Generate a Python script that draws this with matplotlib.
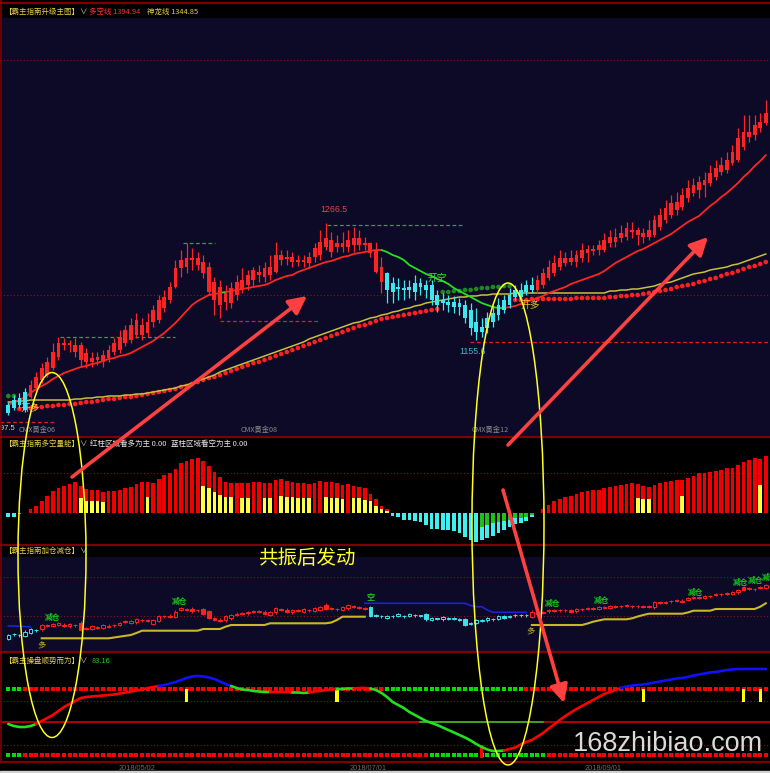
import numpy as np
import matplotlib
matplotlib.use("Agg")
import matplotlib.pyplot as plt
from matplotlib.patches import Ellipse, Rectangle

plt.rcParams['font.family'] = ['Noto Sans CJK SC', 'DejaVu Sans']
CJK = ['Noto Sans CJK SC', 'DejaVu Sans']
NUM = ['Liberation Sans Narrow', 'Liberation Sans', 'DejaVu Sans']

W, H = 770, 773
NAVY = '#0c0a26'
RED = '#ff2424'
CYAN = '#3ee6ee'
GREEN = '#22e022'
YEL_LINE = '#c8c03a'
GOLD = '#e6d04a'
BORDER = '#7e0000'
DOT = '#8a1414'

# ---------------- main chart (price) ----------------
m_open = [1095, 1100, 1102, 1090, 1103, 1112, 1120, 1125, 1132, 1143,
          1155, 1157, 1155, 1155, 1147, 1138, 1140, 1138, 1142, 1148,
          1150, 1157, 1160, 1165, 1175, 1167, 1178, 1180, 1192, 1200,
          1213, 1232, 1233, 1240, 1242, 1238, 1233, 1218, 1195, 1207,
          1197, 1205, 1210, 1215, 1220, 1228, 1223, 1225, 1228, 1245,
          1241, 1243, 1238, 1240, 1237, 1243, 1245, 1253, 1260, 1253,
          1257, 1253, 1255, 1262, 1255, 1257, 1250, 1233, 1227, 1208,
          1213, 1210, 1213, 1208, 1213, 1215, 1215, 1205, 1197, 1198,
          1193, 1197, 1195, 1190, 1178, 1168, 1172, 1178, 1185, 1190,
          1195, 1203, 1210, 1208, 1210, 1210, 1215, 1222, 1227, 1233,
          1237, 1242, 1238, 1242, 1247, 1249, 1250, 1250, 1257, 1258,
          1262, 1263, 1268, 1270, 1267, 1263, 1265, 1273, 1280, 1285,
          1290, 1293, 1302, 1307, 1310, 1315, 1317, 1323, 1328, 1330,
          1337, 1340, 1353, 1368, 1365, 1372, 1377]
m_close = [1087, 1092, 1095, 1108, 1115, 1123, 1132, 1138, 1148, 1157,
           1157, 1155, 1148, 1140, 1138, 1142, 1143, 1145, 1150, 1157,
           1163, 1170, 1175, 1180, 1165, 1178, 1190, 1200, 1203, 1213,
           1232, 1240, 1242, 1242, 1235, 1227, 1208, 1200, 1213, 1198,
           1212, 1218, 1220, 1225, 1230, 1225, 1232, 1233, 1245, 1240,
           1243, 1238, 1240, 1238, 1243, 1252, 1258, 1262, 1248, 1257,
           1253, 1260, 1262, 1255, 1257, 1247, 1228, 1218, 1210, 1217,
           1211, 1212, 1210, 1217, 1217, 1210, 1200, 1195, 1200, 1195,
           1198, 1193, 1182, 1172, 1168, 1173, 1182, 1187, 1195, 1200,
           1205, 1210, 1203, 1215, 1215, 1220, 1227, 1233, 1237, 1242,
           1242, 1238, 1245, 1250, 1251, 1251, 1255, 1260, 1263, 1263,
           1267, 1272, 1270, 1265, 1263, 1270, 1280, 1285, 1292, 1297,
           1298, 1305, 1312, 1315, 1318, 1320, 1327, 1332, 1335, 1340,
           1348, 1362, 1368, 1363, 1375, 1378, 1387]
m_high = [1098, 1105, 1107, 1112, 1120, 1128, 1137, 1143, 1157, 1163,
          1162, 1160, 1162, 1158, 1152, 1148, 1148, 1150, 1155, 1162,
          1170, 1175, 1182, 1187, 1182, 1187, 1195, 1205, 1210, 1218,
          1240, 1250, 1257, 1252, 1248, 1245, 1238, 1223, 1220, 1215,
          1218, 1225, 1232, 1230, 1233, 1235, 1238, 1245, 1258, 1250,
          1250, 1248, 1245, 1245, 1248, 1257, 1270, 1277, 1268, 1265,
          1268, 1270, 1273, 1270, 1263, 1258, 1258, 1243, 1228, 1223,
          1222, 1220, 1220, 1225, 1222, 1220, 1220, 1210, 1207, 1205,
          1204, 1202, 1200, 1197, 1192, 1182, 1188, 1195, 1202, 1205,
          1212, 1215, 1217, 1220, 1223, 1225, 1232, 1240, 1245, 1250,
          1248, 1250, 1250, 1257, 1255, 1255, 1260, 1267, 1270, 1272,
          1275, 1278, 1278, 1273, 1272, 1280, 1285, 1292, 1300, 1305,
          1308, 1312, 1320, 1322, 1324, 1328, 1335, 1340, 1343, 1348,
          1355, 1372, 1385, 1385, 1385, 1387, 1400]
m_low = [1085, 1090, 1092, 1088, 1102, 1110, 1117, 1123, 1130, 1140,
         1150, 1148, 1143, 1133, 1132, 1133, 1135, 1133, 1138, 1145,
         1147, 1154, 1157, 1162, 1160, 1163, 1173, 1177, 1188, 1197,
         1212, 1223, 1227, 1230, 1230, 1222, 1205, 1185, 1182, 1190,
         1192, 1200, 1207, 1210, 1213, 1218, 1218, 1220, 1227, 1235,
         1235, 1233, 1234, 1233, 1232, 1238, 1240, 1250, 1243, 1248,
         1248, 1248, 1248, 1250, 1250, 1243, 1227, 1207, 1197, 1197,
         1200, 1200, 1202, 1200, 1205, 1202, 1195, 1188, 1190, 1188,
         1187, 1185, 1177, 1165, 1160, 1163, 1167, 1173, 1180, 1187,
         1192, 1200, 1200, 1205, 1207, 1207, 1212, 1220, 1224, 1230,
         1234, 1235, 1233, 1238, 1238, 1245, 1245, 1248, 1253, 1253,
         1258, 1260, 1262, 1255, 1257, 1260, 1263, 1270, 1277, 1282,
         1285, 1290, 1298, 1304, 1302, 1303, 1314, 1320, 1325, 1327,
         1335, 1338, 1350, 1358, 1360, 1368, 1375]
# trend regime of the candles: (first bar, last bar, state)
m_regime = [(0, 3, 'short'), (4, 67, 'long'), (68, 94, 'short'), (95, 136, 'long')]

# 多空线 (red/green), 神龙线 (yellow), dotted support line
dk_line = [1095, 1098, 1100, 1103, 1107, 1111, 1114, 1117, 1121, 1124,
           1127, 1129, 1131, 1133, 1134, 1136, 1137, 1139, 1141, 1142,
           1144, 1145, 1147, 1150, 1153, 1156, 1159, 1163, 1167, 1172,
           1177, 1183, 1189, 1195, 1199, 1202, 1205, 1206, 1207, 1208,
           1209, 1210, 1211, 1212, 1213, 1214, 1215, 1217, 1220, 1222,
           1224, 1225, 1228, 1230, 1232, 1234, 1236, 1238, 1239, 1241,
           1243, 1244, 1246, 1247, 1248, 1249, 1250, 1250, 1248, 1245,
           1243, 1240, 1235, 1232, 1229, 1226, 1224, 1221, 1219, 1216,
           1212, 1209, 1206, 1203, 1200, 1197, 1195, 1193, 1192, 1192,
           1193, 1194, 1196, 1198, 1200, 1202, 1204, 1207, 1209, 1211,
           1213, 1216, 1218, 1220, 1222, 1224, 1226, 1229, 1233, 1237,
           1240, 1243, 1246, 1249, 1251, 1254, 1257, 1260, 1263, 1266,
           1270, 1274, 1278, 1281, 1284, 1289, 1294, 1298, 1303, 1307,
           1312, 1317, 1323, 1328, 1334, 1339, 1345]
dk_regime = [(0, 37, 'long'), (38, 38, 'short'), (39, 66, 'long'),
             (67, 88, 'short'), (89, 136, 'long')]
sl_line = [1098, 1098, 1099, 1099, 1100, 1100, 1100, 1100, 1100, 1100,
           1100, 1100, 1101, 1101, 1102, 1102, 1103, 1103, 1104, 1104,
           1104, 1105, 1105, 1106, 1106, 1107, 1108, 1109, 1110, 1111,
           1112, 1114, 1115, 1117, 1119, 1121, 1123, 1125, 1128, 1130,
           1132, 1134, 1136, 1138, 1140, 1142, 1144, 1146, 1148, 1150,
           1152, 1154, 1156, 1158, 1161, 1163, 1165, 1167, 1169, 1171,
           1173, 1175, 1177, 1178, 1180, 1182, 1183, 1185, 1186, 1188,
           1189, 1191, 1192, 1194, 1195, 1197, 1198, 1199, 1200, 1201,
           1202, 1203, 1203, 1204, 1204, 1205, 1205, 1206, 1206, 1206,
           1206, 1207, 1207, 1207, 1207, 1207, 1207, 1207, 1207, 1207,
           1207, 1207, 1207, 1207, 1207, 1207, 1207, 1207, 1209, 1209,
           1210, 1210, 1211, 1211, 1212, 1213, 1214, 1216, 1217, 1218,
           1220, 1222, 1224, 1226, 1227, 1228, 1230, 1231, 1232, 1233,
           1235, 1236, 1238, 1240, 1242, 1244, 1246]
dot_line = [1104, 1104, 1091, 1092, 1092, 1093, 1093, 1094, 1094, 1095,
            1095, 1096, 1096, 1097, 1098, 1098, 1099, 1100, 1101, 1101,
            1102, 1103, 1103, 1104, 1105, 1106, 1107, 1108, 1109, 1110,
            1111, 1113, 1114, 1116, 1118, 1120, 1122, 1123, 1125, 1127,
            1129, 1131, 1133, 1135, 1137, 1138, 1140, 1142, 1144, 1146,
            1148, 1150, 1152, 1154, 1156, 1158, 1160, 1162, 1164, 1166,
            1168, 1170, 1172, 1174, 1175, 1177, 1179, 1181, 1182, 1183,
            1184, 1185, 1186, 1187, 1188, 1189, 1190, 1191, 1208, 1208,
            1209, 1209, 1210, 1210, 1211, 1212, 1212, 1213, 1213, 1214,
            1214, 1200, 1200, 1200, 1201, 1201, 1201, 1201, 1201, 1201,
            1201, 1201, 1202, 1202, 1202, 1202, 1202, 1202, 1203, 1203,
            1204, 1204, 1205, 1205, 1206, 1207, 1208, 1209, 1210, 1211,
            1213, 1214, 1215, 1216, 1218, 1219, 1221, 1222, 1224, 1226,
            1227, 1229, 1231, 1233, 1234, 1236, 1238]
dot_regime = [(0, 1, 'short'), (2, 77, 'long'), (78, 90, 'short'), (91, 136, 'long')]
# support / resistance levels: (from bar, to bar, price, kind)
levels = [(-1.5, 8.4, 1078, 'support'), (9.3, 29.9, 1163, 'resist'),
          (31.4, 37.1, 1257, 'resist'), (38.0, 55.6, 1179, 'support'),
          (57.2, 81.4, 1275, 'resist'), (82.9, 136.8, 1158, 'support')]

# ---------------- 多空量能 histogram ----------------
vol_force = [-4.5, -4.5, -1.5, -0.5, 3.3, 7, 12, 16.7, 21.7, 25, 27, 28.7, 30.3,
             27, 24, 22.3, 22.3, 20.7, 21.7, 21.7, 22.3, 25, 26, 28.7, 31,
             30.3, 30, 33.3, 37.7, 40, 43.7, 49.3, 51.7, 53.3, 54.3,
             51.7, 47, 41, 35.3, 31, 30, 30, 29.3, 29.3, 31, 31, 29.3, 29.3,
             32.7, 33.3, 32, 31, 29.3, 29.3, 28.7, 29.3, 32, 31, 30.3, 30,
             27.7, 28.7, 26.7, 26, 25, 18.7, 13.3, 6.7, 3.3,
             -3, -4.7, -7.3, -7.3, -8, -9, -12.3, -16, -16.7, -17.3, -17.3, -18.3, -20, -24, -27.3, -29,
             -27.3, -25.7, -23.3, -20.7, -17.3, -14, -11.7, -10, -8.3, -4, -0.7,
             3.3, 7.7, 11.7, 13.7, 15.3, 16.7, 18.3, 21, 21.7, 22.7, 22.7, 25, 26, 26.7, 27.7, 28.7, 29.3,
             28.3, 26.7, 26, 27.7, 29.3, 30.3, 31.7, 32.7, 32.7, 34.3, 36.7, 39.3, 39.3, 41, 42, 42.7,
             44.3, 44.3, 47.7, 51, 52.7, 54.3, 53.7, 57]
yel_idx = [13, 14, 15, 16, 17, 25, 35, 36, 37, 38, 39, 40, 42, 43, 46, 47, 49, 50, 51,
           52, 53, 54, 57, 58, 59, 60, 62, 63, 64, 65, 66, 67, 68, 113, 114, 115, 121, 135]
yel_val = [14.3, 12, 11.7, 11.7, 11, 16, 26.7, 24.3, 21, 17.3, 16, 15.3, 15, 15, 15, 15, 16.7, 16, 15.3,
           15, 14.3, 14.3, 16, 15, 14.3, 13.7, 14.3, 14.3, 12.7, 11.7, 6.7, 3.7, 1.7, 15, 13.7, 13.3, 16.7, 27.7]
grn_idx = [2, 3, 85, 86, 87, 88, 89, 90, 91, 92, 93, 94, 95]
grn_val = [-1.5, -0.5, -14, -12.3, -10, -9, -8, -7.3, -5.7, -5.7, -4.7, -2.3, -0.7]

# ---------------- 加仓减仓 small candles ----------------
p3_open = [13.5, 18.3, 17.3, 16.5, 19.5, 22.3, 22.7, 26.6, 26, 27.3,
           27.5, 25.7, 27.3, 29.5, 23.3, 23.5, 24, 24, 25.5, 26.7,
           27.3, 29.8, 29.5, 29.7, 31.7, 31, 28.3, 31, 36.3, 35.5,
           35.5, 42, 43.3, 43.5, 42.3, 42.7, 41, 33.7, 32.5, 31.7,
           33.7, 37.5, 38.3, 38.7, 40, 40, 40.5, 37.3, 39.7, 43,
           42.5, 39.7, 41, 40, 41.7, 41, 42, 47.5, 44, 43.3,
           42.3, 43.7, 45.7, 45.3, 44, 45, 36.7, 36.3, 34.5, 36.3,
           36, 36.3, 36, 37.3, 36.2, 38, 32, 33.2, 32.7, 34,
           33.5, 33, 32.7, 29, 29, 31, 31.7, 33.3, 33, 36.3,
           35, 36.7, 37.3, 36.7, 35.5, 38.3, 39.3, 40.7, 41.7, 41.7,
           42.3, 42.3, 40.7, 42.7, 43.3, 44, 43, 44, 44.3, 45.7,
           45.7, 46.3, 46.3, 45.7, 45.7, 45, 44.7, 49.3, 49.3, 50.7,
           51, 51.5, 52.3, 54, 54.3, 54.3, 56.3, 57, 58.3, 58.3,
           58.3, 59.7, 65, 63.3, 63.3, 64.3, 64]
p3_close = [17, 17.7, 16.7, 20.5, 23, 21.7, 27, 26, 28, 28.7,
            26.5, 28.3, 26.7, 22.5, 24, 26, 25.3, 26.7, 26.5, 27.3,
            28.7, 30.8, 31, 33, 32.3, 31.7, 32.3, 36.3, 35.7, 36.5,
            40.5, 44, 42, 40.7, 41.7, 38, 34.5, 32.3, 31.5, 35.7,
            37, 38.5, 39, 40, 40.7, 40.7, 38, 40, 44.3, 42.3,
            40, 42.3, 41.7, 42.7, 42.3, 44.3, 45.3, 43, 43.3, 42.7,
            45, 47, 45, 44, 43.3, 36.5, 36, 35.7, 36.3, 35.7,
            38, 35.7, 38, 36.7, 35.8, 32.7, 34, 32.8, 34.7, 33.3,
            34, 32.3, 27.3, 28.3, 31.7, 31.7, 34.3, 32.7, 35.7, 34.3,
            35.7, 37.3, 36.7, 37.3, 40.5, 39, 40, 42, 41, 42.3,
            41.7, 40.3, 43.3, 43.3, 44, 43.3, 44.7, 44.7, 46.3, 45,
            46.3, 47, 45.7, 46.3, 45, 45.7, 49.7, 50, 50, 51.3,
            51.7, 50.5, 53.7, 54.7, 55, 56.3, 55.7, 58.3, 57.7, 59,
            60.3, 62.3, 62.3, 64, 62.7, 65, 66.7]
p3_regime = [(0, 5, 'short'), (6, 64, 'long'), (65, 93, 'short'), (94, 136, 'long')]
p3_cost = ([None] * 6 + [13.7] * 13 + [14.5, 15.3, 16, 17, 19] + [21.3] * 11 + [23] * 4 +
           [25.3] + [27] * 7 + [28.7] * 11 + [29.5, 32] + [35.3] * 5 + [None] * 29 +
           [27] * 10 + [28.5, 30.3, 31.5] + [32.7] * 5 + [33.7, 35.5, 37] + [38.3] * 7 +
           [39.5] + [41.3] * 4 + [43] * 8 + [45.3, 48.7])
p3_stop = ([26, 26, 25.8, 25.5, 25] + [None] * 59 + [48.7] * 19 + [46.5, 45.3, 45.3, 42] +
           [39.7] * 7 + [None] * 43)

# ---------------- 顺势而为 line ----------------
p4_line = [38, 36, 35, 35, 36, 38, 41, 44, 47, 51,
           55, 58, 61, 64, 65, 65.5, 66, 66.5, 67, 67.5,
           68.5, 69.5, 70.5, 71.5, 72.5, 74, 75, 76, 77, 78.5,
           80, 82, 84, 85.5, 86, 85.5, 84.5, 83, 80.5, 78,
           76, 74, 72.5, 72, 71, 70.5, 70, 70, 70, 70,
           70, 69.5, 69.5, 69, 69.5, 70.5, 71, 72, 72.5, 73,
           73, 73.5, 73.5, 74, 74, 73.5, 72, 69, 65, 60,
           57, 54, 50, 47, 44, 41, 39, 37, 34.5, 32,
           29.5, 27, 24.5, 21.5, 18, 15, 12.5, 11, 11, 11.5,
           13, 14.5, 17.5, 20, 22, 25.5, 29, 33.5, 37.5, 42,
           46, 49.5, 53, 56, 59, 62, 65, 68, 70, 72,
           74, 75.5, 76.5, 77, 77.5, 78.5, 79.5, 80.5, 81.5, 82.5,
           83.5, 84, 85, 86.5, 87.5, 88.5, 89.5, 90, 91, 92,
           92.5, 93, 93, 93, 93, 93, 93]
p4_regime = [(0, 4, 'short'), (5, 26, 'long'), (27, 39, 'strong'), (40, 46, 'short'),
             (47, 50, 'long'), (51, 53, 'short'), (54, 58, 'long'), (59, 61, 'short'),
             (62, 64, 'long'), (65, 88, 'short'), (89, 109, 'long'), (110, 136, 'strong')]
p4_top_row = [(0, 2, 'short'), (3, 67, 'long'), (68, 92, 'short'), (93, 136, 'long')]
p4_bot_row = [(0, 2, 'short'), (3, 75, 'long'), (76, 96, 'short'), (97, 136, 'long')]
p4_signal_idx = [32, 59, 114, 132, 135]
p4_low_idx = [85]
p4_zero_green = (74, 96)

dates = ['2018/05/02', '2018/07/01', '2018/09/01']
date_px = [137, 368, 603]

# ---------------- layout ----------------
X0, DX = 8.3, 5.57            # pixel of bar 0, pixels per bar
XL = (-X0 / DX, (W - X0) / DX)

fig = plt.figure(figsize=(W / 100, H / 100), dpi=100, facecolor='black')


def panel(top, bottom, ylim):
    ax = fig.add_axes([0, 1 - bottom / H, 1, (bottom - top) / H])
    ax.set_facecolor('black')
    ax.set_xlim(*XL)
    ax.set_ylim(*ylim)
    ax.set_xticks([]); ax.set_yticks([])
    for s in ax.spines.values():
        s.set_visible(False)
    return ax


def colors_for(regime, n, cmap):
    out = [None] * n
    for a, b, st in regime:
        for i in range(a, b + 1):
            out[i] = cmap[st]
    return out


def seg_line(ax, y, regime, cmap, lw, z=3):
    y = np.array(y, dtype=float)
    for a, b, st in regime:
        xs = np.arange(a, min(b + 2, len(y)))
        ax.plot(xs, y[xs], color=cmap[st], lw=lw, zorder=z, solid_capstyle='round')


# ---- main ----
ax1 = panel(0, 437, (1063, 1500))
ax1.axhspan(1063, 1482, color=NAVY, zorder=0)
for lv in (1440, 1205):
    ax1.axhline(lv, color=DOT, lw=0.8, ls=(0, (1, 2)), zorder=1)
for a, b, p, kind in levels:
    ax1.plot([a, b], [p, p], color='#22b022' if kind == 'resist' else '#e02020',
             lw=0.9, ls=(0, (3, 2)), zorder=1)

n = len(m_open)
xi = np.arange(n)
ccol = colors_for(m_regime, n, {'long': RED, 'short': CYAN})
o, c = np.array(m_open, float), np.array(m_close, float)
ax1.vlines(xi, m_low, m_high, colors=ccol, lw=0.9, zorder=4)
ax1.bar(xi, np.maximum(np.abs(c - o), 1.2), bottom=np.minimum(o, c), width=0.68,
        color=ccol, zorder=5)

dcol = colors_for(dot_regime, len(dot_line), {'long': '#ff2020', 'short': '#1e8a1e'})
ax1.scatter(np.arange(len(dot_line)), dot_line, s=11, c=dcol, edgecolors='none', zorder=2)
ax1.plot(np.arange(len(sl_line)), sl_line, color=YEL_LINE, lw=1.1, zorder=3)
seg_line(ax1, dk_line, dk_regime, {'long': RED, 'short': GREEN}, 1.3)

ax1.text(58.5, 1290, '1266.5', color='#e04848', fontsize=6.3, ha='center', va='center', family=NUM)
ax1.text(83.3, 1148, '1155.6', color='#3cb4cc', fontsize=6.3, ha='center', va='center', family=NUM)
ax1.text(77, 1222, '开空', color='#30e030', fontsize=7, ha='center', va='center')
ax1.text(3.9, 1092, '开多', color='#f0c030', fontsize=7, ha='center', va='center')
ax1.text(93.7, 1195, '开多', color='#f0c030', fontsize=7, ha='center', va='center')
ax1.text(1.3, 1071, '1197.5', color='#e0dca0', fontsize=5.5, ha='right', va='center', family=NUM)
ax1.text(1.9, 1070, 'CMX黄金06', color='#8a8a8a', fontsize=5.2, ha='left', va='center')
for xb, lab in [(45, 'CMX黄金08'), (86.5, 'CMX黄金12')]:
    ax1.text(xb, 1070, lab, color='#8a8a8a', fontsize=5.2, ha='center', va='center')

# ---- 多空量能 ----
ax2 = panel(437, 545, (-32.3, 75.7))
vf = np.array(vol_force)
ax2.axhline(39.7, color=DOT, lw=0.8, ls=(0, (1, 2)), zorder=1)
ax2.bar(np.arange(len(vf)), vf, width=0.66, color=np.where(vf >= 0, '#f00000', '#3ef0f0'), zorder=2)
ax2.bar(yel_idx, yel_val, width=0.66, color='#ffff44', zorder=3)
ax2.bar(grn_idx, grn_val, width=0.66, color='#1fbf1f', zorder=3)

# ---- 加仓减仓 ----
ax3 = panel(545, 652, (0, 107))
ax3.axhspan(0, 95, color=NAVY, zorder=0)
for lv in (75, 36):
    ax3.axhline(lv, color=DOT, lw=0.8, ls=(0, (1, 2)), zorder=1)
ax3.plot(np.arange(len(p3_cost)), np.array(p3_cost, dtype=float), color='#c8b828', lw=1.5, zorder=2)
ax3.plot(np.arange(len(p3_stop)), np.array(p3_stop, dtype=float), color='#2020d8', lw=1.2, zorder=2)
o3, c3 = np.array(p3_open, float), np.array(p3_close, float)
col3 = colors_for(p3_regime, len(o3), {'long': '#ff2020', 'short': '#3ee0ea'})
x3 = np.arange(len(o3))
ax3.vlines(x3, np.minimum(o3, c3) - 1.2, np.maximum(o3, c3) + 1.2, colors=col3, lw=0.7, zorder=3)
face3 = [NAVY if c3[i] > o3[i] else col3[i] for i in range(len(o3))]
ax3.bar(x3, np.maximum(np.abs(c3 - o3), 0.8), bottom=np.minimum(o3, c3), width=0.64,
        color=face3, edgecolor=col3, lw=0.7, zorder=4)
for xb, yb in [(7.9, 35), (30.7, 51), (97.8, 49), (106.6, 52), (123.4, 60),
               (131.4, 70), (134.2, 72), (136.6, 75)]:
    ax3.text(xb, yb, '减仓', color='#18c818', fontsize=5.6, weight='bold', ha='center', va='center')
ax3.text(65.1, 54, '空', color='#18c818', fontsize=5.8, weight='bold', ha='center', va='center')
ax3.text(5.9, 6, '多', color='#c8b830', fontsize=6, ha='center', va='center')
ax3.text(93.7, 20, '多', color='#c8b830', fontsize=6, ha='center', va='center')

# ---- 顺势而为 ----
ax4 = panel(652, 762, (0, 110))
for lv in (61, 17):
    ax4.axhline(lv, color=DOT, lw=0.8, ls=(0, (1, 2)), zorder=1)
ax4.axhline(40, color='#e00000', lw=1.1, zorder=1)
ax4.plot(p4_zero_green, [40, 40], color='#20d020', lw=1.1, zorder=2)
for row, yv in [(p4_top_row, 73), (p4_bot_row, 7)]:
    for a, b, st in row:
        ax4.plot(np.arange(a, b + 1), [yv] * (b - a + 1), ls='none', marker='s', ms=2.9,
                 mew=0, color='#00dd00' if st == 'short' else '#ff0000', zorder=2)
ax4.bar(p4_signal_idx, [13] * len(p4_signal_idx), bottom=60, width=0.6, color='#ffff00', zorder=3)
ax4.bar(p4_low_idx, [13], bottom=4, width=0.6, color='#ff0000', zorder=3)
seg_line(ax4, p4_line, p4_regime, {'long': '#ff0000', 'short': '#20e020', 'strong': '#1010ff'}, 1.9, z=4)

# ---- overlay: borders, titles, hand drawn marks ----
ov = fig.add_axes([0, 0, 1, 1])
ov.set_xlim(0, W); ov.set_ylim(H, 0); ov.axis('off'); ov.patch.set_alpha(0)
for yb in (2.5, 437, 545, 652, 762):
    ov.plot([0, W], [yb, yb], color=BORDER, lw=1.6)
ov.plot([1, 1], [0, 762], color=BORDER, lw=1.2)

fs = 5.4
def ttl(x, y, s, col, fam=CJK):
    ov.text(x, y, s, color=col, fontsize=fs, ha='left', va='center', family=fam)

ttl(4, 12, '【霸主指南升级主图】', GOLD); ttl(79, 12, '∨', '#cfcfcf')
ttl(89, 12, '多空线 1394.94', '#ff3030'); ttl(147, 12, '神龙线 1344.85', GOLD)
ttl(4, 444, '【霸主指南多空量能】', GOLD); ttl(79, 444, '∨', '#cfcfcf')
ttl(90, 444, '红柱区域看多为主 0.00', '#e6e6e6'); ttl(171, 444, '蓝柱区域看空为主 0.00', '#e6e6e6')
ttl(4, 551, '【霸主指南加仓减仓】', GOLD); ttl(79, 551, '∨', '#cfcfcf')
ttl(4, 661, '【霸主操盘顺势而为】', GOLD); ttl(79, 661, '∨', '#cfcfcf')
ttl(92, 661, '83.16', '#22cc22')

for xd, d in zip(date_px, dates):
    ov.text(xd, 769, d, color='#6a6a6a', fontsize=5.3, ha='center', va='center', family=NUM)
ov.add_patch(Rectangle((0, 770.5), W, 3, color='#d0d0d0', zorder=5))

ov.add_patch(Ellipse((52, 555), 68, 365, fill=False, ec='#ffff22', lw=1.1, zorder=6))
ov.add_patch(Ellipse((508, 524), 72, 482, fill=False, ec='#ffff22', lw=1.1, zorder=6))
for tail, head in [((72, 477), (307, 296)), ((508, 445), (708, 237)), ((503, 490), (564, 703))]:
    ov.annotate('', xy=head, xytext=tail, zorder=7,
                arrowprops=dict(arrowstyle='-|>,head_length=0.9,head_width=0.45',
                                color='#ff4040', lw=2.6, shrinkA=0, shrinkB=0, mutation_scale=12))
ov.text(307, 558, '共振后发动', color='#ffff30', fontsize=14, ha='center', va='center', zorder=7)
ov.text(668, 744, '168zhibiao.com', color='#dadada', fontsize=19.5, ha='center', va='center',
        family=['Liberation Sans', 'DejaVu Sans'], zorder=7)

fig.savefig('out.png', dpi=100, facecolor='black')
